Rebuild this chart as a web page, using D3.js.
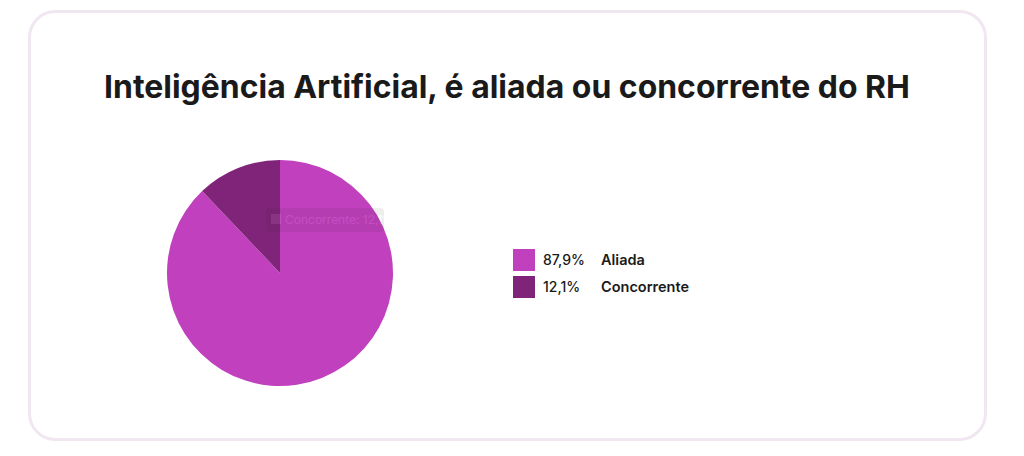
<!DOCTYPE html>
<html>
<head>
<meta charset="utf-8">
<script src="https://cdn.jsdelivr.net/npm/d3@7"></script>
<style>
  body { margin: 0; background: #fff; }
  svg { display: block; }
</style>
</head>
<body>
<svg width="1024" height="456"></svg>
<script>
const titleText = 'Inteligência Artificial, é aliada ou concorrente do RH';
const labels = ['Aliada', 'Concorrente'];
const values = [87.9, 12.1];
const colors = ['#c040bd', '#80247a'];

const fmt = v => d3.format('.1f')(v).replace('.', ',') + '%';

const svg = d3.select('svg');

// card
svg.append('rect')
    .attr('x', 29.5).attr('y', 11.5)
    .attr('width', 956).attr('height', 428)
    .attr('rx', 26)
    .attr('fill', '#fff')
    .attr('stroke', '#f1e7f0')
    .attr('stroke-width', 3);

// title, scaled to the width it has in the picture
const title = svg.append('text')
    .attr('x', 507).attr('y', 98)
    .attr('text-anchor', 'middle')
    .attr('font-family', 'Inter, "Open Sans", sans-serif')
    .attr('font-weight', 700)
    .attr('font-size', 33)
    .attr('fill', '#1a1a1a')
    .text(titleText);
const tw = title.node().getComputedTextLength();
title.attr('font-size', 33 * 806 / tw);

// pie
const cx = 280, cy = 273, r = 113;
const pie = d3.pie().sort(null).value(d => d.value);
const arc = d3.arc().innerRadius(0).outerRadius(r);
const data = labels.map((l, i) => ({ label: l, value: values[i], color: colors[i] }));

const g = svg.append('g').attr('transform', `translate(${cx},${cy})`);
g.selectAll('path')
    .data(pie(data))
    .enter()
    .append('path')
    .attr('d', arc)
    .attr('fill', d => d.data.color);

// faded tooltip left over on the chart
const tip = svg.append('g').attr('opacity', 0.07);
tip.append('rect')
    .attr('x', 266).attr('y', 208)
    .attr('width', 118).attr('height', 24)
    .attr('rx', 4)
    .attr('fill', '#222');
tip.append('rect')
    .attr('x', 271).attr('y', 214)
    .attr('width', 10).attr('height', 10)
    .attr('fill', '#fff');
tip.append('text')
    .attr('x', 285).attr('y', 224)
    .attr('font-family', 'Inter, sans-serif')
    .attr('font-size', 12)
    .attr('fill', '#fff')
    .text(labels[1] + ': ' + fmt(values[1]));

// legend
const legend = svg.append('g').attr('transform', 'translate(513,249)');
const rows = legend.selectAll('g')
    .data(data)
    .enter()
    .append('g')
    .attr('transform', (d, i) => `translate(0,${i * 27})`);

rows.append('rect')
    .attr('width', 22).attr('height', 22)
    .attr('fill', d => d.color);

rows.append('text')
    .attr('x', 30).attr('y', 16)
    .attr('font-family', 'Inter, sans-serif')
    .attr('font-size', 14)
    .attr('font-weight', 500)
    .attr('fill', '#1a1a1a')
    .text(d => fmt(d.value));

rows.append('text')
    .attr('x', 88).attr('y', 16)
    .attr('font-family', 'Inter, sans-serif')
    .attr('font-size', 14.5)
    .attr('font-weight', 600)
    .attr('fill', '#1a1a1a')
    .text(d => d.label);
</script>
</body>
</html>
